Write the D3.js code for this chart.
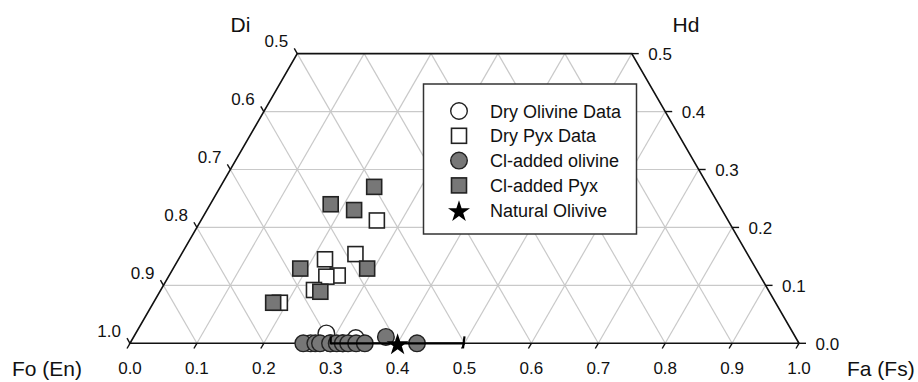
<!DOCTYPE html>
<html>
<head>
  <meta charset="utf-8">
  <script src="https://d3js.org/d3.v7.min.js"></script>
  <style>
    body { margin: 0; background: #fff; }
    svg { display: block; font-family: "Liberation Sans", Arial, Helvetica, sans-serif; }
  </style>
</head>
<body>
<script>
  // points are [Fa (bottom fraction), Wo (height fraction)]
  var dryOlivine = [[0.270, 0.000], [0.285, 0.017], [0.300, 0.000], [0.318, 0.000], [0.333, 0.009]];
  var dryPyx = [[0.263, 0.212], [0.219, 0.145], [0.260, 0.154], [0.252, 0.117],
                [0.236, 0.115], [0.229, 0.092], [0.189, 0.070]];
  var clOlivine = [[0.259, 0.000], [0.277, 0.000], [0.284, 0.000], [0.299, 0.000],
                   [0.309, 0.000], [0.318, 0.000], [0.326, 0.000], [0.338, 0.000],
                   [0.351, 0.000], [0.377, 0.011], [0.429, 0.000]];
  var clPyx = [[0.230, 0.270], [0.180, 0.240], [0.220, 0.230], [0.190, 0.129],
               [0.290, 0.129], [0.240, 0.089], [0.179, 0.070]];
  var naturalOlivine = [[0.40, 0.00]];
  var naturalErr = 0.10;

  var bottomTicks = d3.range(0, 1.0001, 0.1);
  var leftTicks = d3.range(0, 0.5001, 0.1);   // wo values, labelled 1 - wo
  var rightTicks = d3.range(0, 0.5001, 0.1);  // labelled wo

  var legendItems = [
    {label: "Dry Olivine Data", shape: "circle", fill: "#fff"},
    {label: "Dry Pyx Data", shape: "square", fill: "#fff"},
    {label: "Cl-added olivine", shape: "circle", fill: "#777"},
    {label: "Cl-added Pyx", shape: "square", fill: "#777"},
    {label: "Natural Olivive", shape: "star", fill: "#000"}
  ];

  var W = 918, H = 382;
  var x0 = 130, L = 669, yBase = 343.3;
  var h = L * Math.sqrt(3) / 2;

  var xs = d3.scaleLinear().domain([0, 1]).range([x0, x0 + L]);
  var ys = d3.scaleLinear().domain([0, 1]).range([yBase, yBase - h]);

  function P(fa, wo) { return [xs(fa + wo / 2), ys(wo)]; }

  var svg = d3.select("body").append("svg")
    .attr("width", W).attr("height", H);

  // grid
  var grid = svg.append("g")
    .attr("stroke", "#c9c9c9").attr("stroke-width", 1.2).attr("fill", "none");
  var lines = [];
  d3.range(1, 5).forEach(function (k) {
    var t = k / 10;
    lines.push([P(0, t), P(1 - t, t)]);
  });
  d3.range(1, 10).forEach(function (k) {
    var c = k / 10;
    lines.push([P(c, 0), P(c, Math.min(0.5, 1 - c))]);
    var a = k / 10;
    var tt = Math.min(0.5, 1 - a);
    lines.push([P(1 - a, 0), P(1 - a - tt, tt)]);
  });
  grid.selectAll("line").data(lines).enter().append("line")
    .attr("x1", function (d) { return d[0][0]; })
    .attr("y1", function (d) { return d[0][1]; })
    .attr("x2", function (d) { return d[1][0]; })
    .attr("y2", function (d) { return d[1][1]; });

  // frame
  var frame = [P(0, 0), P(1, 0), P(0.5, 0.5), P(0, 0.5)];
  svg.append("path")
    .attr("d", d3.line()(frame) + "Z")
    .attr("fill", "none").attr("stroke", "#111").attr("stroke-width", 1.6);

  var axes = svg.append("g").attr("stroke", "#111").attr("stroke-width", 1.4);
  var tl = 6;
  // bottom ticks: down-left
  bottomTicks.forEach(function (v) {
    var p = P(v, 0);
    axes.append("line").attr("x1", p[0]).attr("y1", p[1])
      .attr("x2", p[0] - tl * 0.5).attr("y2", p[1] + tl * 0.866);
  });
  // left ticks: up-left
  leftTicks.forEach(function (t) {
    var p = P(0, t);
    axes.append("line").attr("x1", p[0]).attr("y1", p[1])
      .attr("x2", p[0] - tl * 0.5).attr("y2", p[1] - tl * 0.866);
  });
  // right ticks: horizontal
  rightTicks.forEach(function (t) {
    var p = P(1 - t, t);
    axes.append("line").attr("x1", p[0]).attr("y1", p[1])
      .attr("x2", p[0] + 7).attr("y2", p[1]);
  });

  var lab = svg.append("g").attr("font-size", 17).attr("fill", "#111");
  bottomTicks.forEach(function (v) {
    var p = P(v, 0);
    lab.append("text").attr("x", p[0]).attr("y", 374)
      .attr("text-anchor", "middle").text(d3.format(".1f")(v));
  });
  leftTicks.forEach(function (t) {
    var p = P(0, t);
    lab.append("text").attr("x", p[0] - 9).attr("y", p[1] - 6.5)
      .attr("text-anchor", "end").text(d3.format(".1f")(1 - t));
  });
  rightTicks.forEach(function (t) {
    var p = P(1 - t, t);
    lab.append("text").attr("x", p[0] + 16.5).attr("y", p[1] + 6.5)
      .text(d3.format(".1f")(t));
  });

  var titles = svg.append("g").attr("font-size", 21).attr("fill", "#111");
  titles.append("text").attr("x", 240.5).attr("y", 32).attr("text-anchor", "middle").text("Di");
  titles.append("text").attr("x", 686).attr("y", 32).attr("text-anchor", "middle").text("Hd");
  titles.append("text").attr("x", 12).attr("y", 376).text("Fo (En)");
  titles.append("text").attr("x", 847).attr("y", 376).text("Fa (Fs)");

  // legend box (covers grid)
  var lg = svg.append("g");
  lg.append("rect").attr("x", 423.5).attr("y", 84).attr("width", 213).attr("height", 150)
    .attr("fill", "#fff").attr("stroke", "#333").attr("stroke-width", 1.5);

  var sq = 15, cr = 8.3;
  function drawMarker(g, shape, fill, x, y) {
    if (shape === "circle") {
      g.append("circle").attr("cx", x).attr("cy", y).attr("r", cr)
        .attr("fill", fill).attr("stroke", "#222").attr("stroke-width", 1.4);
    } else if (shape === "square") {
      g.append("rect").attr("x", x - sq / 2).attr("y", y - sq / 2)
        .attr("width", sq).attr("height", sq)
        .attr("fill", fill).attr("stroke", "#222").attr("stroke-width", 1.6);
    } else {
      g.append("path").attr("transform", "translate(" + x + "," + (y + 1.5) + ")")
        .attr("d", d3.symbol().type(d3.symbolStar).size(150)())
        .attr("fill", fill);
    }
  }

  legendItems.forEach(function (d, i) {
    var y = 111 + i * 24.8;
    drawMarker(lg, d.shape, d.fill, 459, y);
    lg.append("text").attr("x", 490).attr("y", y + 6.5)
      .attr("font-size", 18).attr("fill", "#111").text(d.label);
  });

  // data
  var pts = svg.append("g");
  dryPyx.forEach(function (d) { var p = P(d[0], d[1]); drawMarker(pts, "square", "#fff", p[0], p[1]); });
  clPyx.forEach(function (d) { var p = P(d[0], d[1]); drawMarker(pts, "square", "#777", p[0], p[1]); });
  dryOlivine.forEach(function (d) { var p = P(d[0], d[1]); drawMarker(pts, "circle", "#fff", p[0], p[1]); });
  clOlivine.forEach(function (d) { var p = P(d[0], d[1]); drawMarker(pts, "circle", "#777", p[0], p[1]); });

  // natural olivine with error bar
  naturalOlivine.forEach(function (d) {
    var a = P(d[0] - naturalErr, d[1]), b = P(d[0] + naturalErr, d[1]);
    var eb = pts.append("g").attr("stroke", "#000").attr("stroke-width", 2.2);
    eb.append("line").attr("x1", a[0]).attr("y1", a[1]).attr("x2", b[0]).attr("y2", b[1]);
    eb.append("line").attr("x1", a[0]).attr("y1", a[1] - 7).attr("x2", a[0]).attr("y2", a[1] + 1);
    eb.append("line").attr("x1", b[0]).attr("y1", b[1] - 7).attr("x2", b[0] - 1.5).attr("y2", b[1] + 5);
    var p = P(d[0], d[1]);
    drawMarker(pts, "star", "#000", p[0], p[1]);
  });
</script>
</body>
</html>
